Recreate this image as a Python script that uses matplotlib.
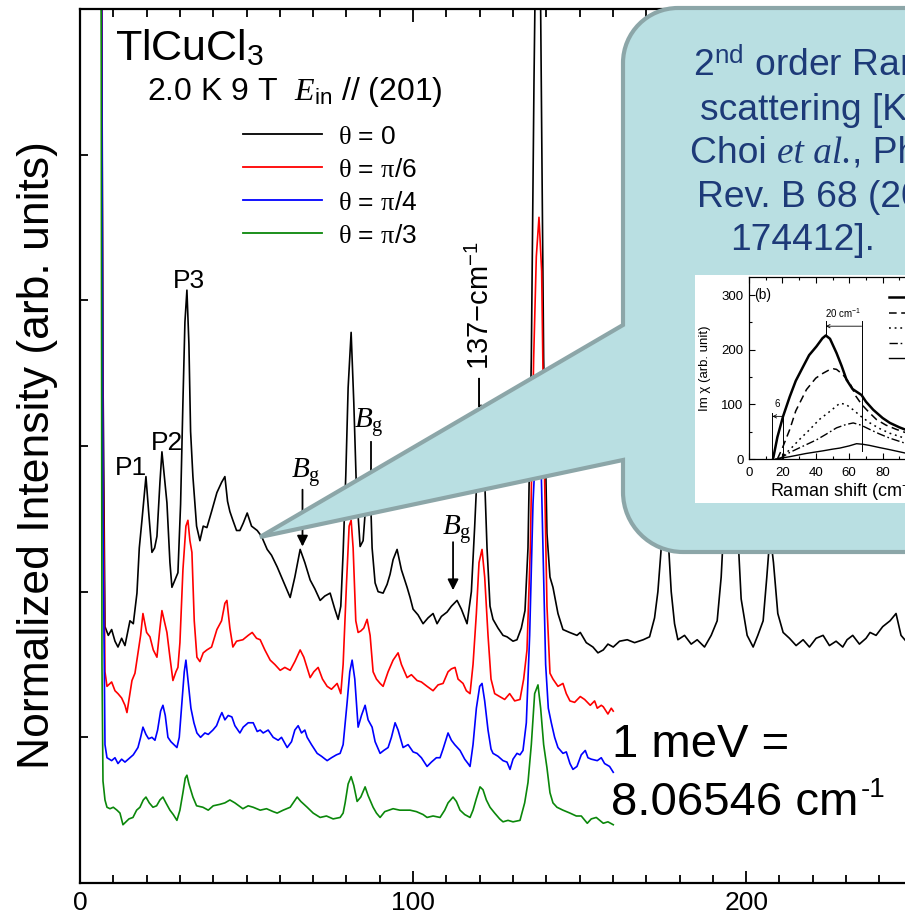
import matplotlib
matplotlib.use('Agg')
import matplotlib.pyplot as plt
from matplotlib.lines import Line2D
from matplotlib.patches import PathPatch
from matplotlib.path import Path
from matplotlib.ticker import MultipleLocator

plt.rcParams['font.family'] = ['Liberation Sans', 'DejaVu Sans']
plt.rcParams['mathtext.fontset'] = 'custom'
plt.rcParams['mathtext.rm'] = 'Liberation Serif'
plt.rcParams['mathtext.it'] = 'Liberation Serif:italic'
plt.rcParams['mathtext.sf'] = 'Liberation Sans'
plt.rcParams['mathtext.bf'] = 'Liberation Serif:bold'

# ---------------- data (Raman shift in cm^-1, normalized intensity) ----------------
black_x = [6.4, 6.9, 7.5, 8.5, 9.5, 10.5, 11.4, 12.5, 13.5, 15.0, 16.0, 17.1, 17.8, 18.6, 19.8, 20.6,
           21.6, 22.4, 23.1, 24.0, 24.6, 25.3, 26.1, 27.0, 27.6, 28.5, 29.4, 30.2, 30.9, 31.5, 32.1,
           32.7, 33.2, 33.9, 35.0, 36.0, 37.0, 38.1, 39.5, 41.1, 42.5, 43.5, 44.3, 45.0, 45.9, 47.0,
           48.0, 49.0, 50.2, 51.5, 53.2, 54.5, 56.2, 57.5, 59.2, 60.5, 62.0, 63.1, 64.5, 66.1, 67.5,
           69.1, 70.5, 72.1, 73.5, 75.1, 76.5, 77.5, 78.3, 79.0, 79.8, 80.5, 81.4, 82.2, 83.0, 84.1,
           85.0, 85.8, 86.5, 87.1, 87.7, 88.6, 89.5, 91.0, 92.2, 93.1, 94.0, 95.2, 96.5, 98.2, 99.1,
           100.0, 101.5, 103.0, 104.5, 106.0, 107.2, 108.5, 110.2, 111.5, 113.2, 114.5, 116.2, 117.5,
           118.5, 119.5, 120.4, 121.3, 122.2, 123.1, 124.0, 125.5, 127.0, 128.2, 130.0, 131.2, 132.5,
           133.6, 134.5, 135.5, 136.3, 137.0, 137.6, 138.3, 139.2, 140.2, 141.1, 142.0, 143.5, 145.0,
           147.0, 149.2, 150.2, 152.0, 154.0, 155.5, 157.1, 158.5, 160.1, 162.0, 164.3, 166.5, 169.1,
           171.0, 172.5, 173.5, 174.5, 175.5, 176.5, 177.5, 178.5, 179.5, 181.5, 183.5, 185.3, 187.5,
           189.5, 191.3, 192.5, 193.5, 194.5, 195.5, 196.5, 197.5, 198.5, 200.3, 202.1, 203.5, 205.1,
           206.2, 207.2, 208.2, 209.5, 211.1, 213.0, 215.0, 217.1, 219.0, 221.0, 223.1, 225.0, 227.0,
           229.0, 230.3, 232.0, 234.0, 236.0, 237.2, 239.0, 241.0, 243.2, 245.0, 246.5, 248.0, 250.0]
black_y = [7.0, 3.5, 1.76, 1.70, 1.74, 1.66, 1.62, 1.68, 1.63, 1.80, 1.78, 1.99, 2.30, 2.49, 2.79, 2.55,
           2.27, 2.30, 2.38, 2.75, 2.96, 2.80, 2.61, 2.20, 2.03, 2.08, 2.13, 2.60, 3.30, 3.85, 4.07,
           3.70, 3.10, 2.79, 2.45, 2.35, 2.45, 2.44, 2.55, 2.68, 2.75, 2.79, 2.62, 2.55, 2.49, 2.42,
           2.42, 2.47, 2.54, 2.45, 2.42, 2.38, 2.29, 2.25, 2.17, 2.10, 2.02, 1.96, 2.10, 2.29, 2.20,
           2.08, 2.02, 1.94, 1.97, 1.99, 1.88, 1.81, 1.90, 2.27, 2.80, 3.40, 3.78, 3.30, 2.70, 2.31,
           2.35, 2.60, 2.80, 2.75, 2.30, 2.06, 2.00, 1.99, 2.05, 2.12, 2.22, 2.29, 2.15, 2.03, 1.96,
           1.88, 1.84, 1.78, 1.82, 1.85, 1.78, 1.83, 1.86, 1.90, 1.94, 1.88, 1.78, 2.00,
           2.45, 2.95, 3.28, 2.90, 2.30, 1.90, 1.81, 1.75, 1.70, 1.69, 1.66, 1.67, 1.75,
           1.87, 2.30, 3.60, 5.50, 6.80, 7.20, 6.00, 3.60, 2.40, 2.10, 2.03, 1.85, 1.74,
           1.72, 1.70, 1.72, 1.65, 1.62, 1.58, 1.60, 1.64, 1.62, 1.66, 1.67, 1.65, 1.67,
           1.69, 1.82, 2.00, 2.30, 2.55, 2.40, 2.00, 1.78, 1.67, 1.70, 1.64, 1.67, 1.62,
           1.70, 1.80, 2.10, 2.55, 2.85, 3.00, 2.85, 2.40, 1.95, 1.70, 1.62, 1.70, 1.80,
           2.10, 2.40, 2.20, 1.85, 1.72, 1.68, 1.63, 1.67, 1.62, 1.68, 1.70, 1.63, 1.66,
           1.62, 1.67, 1.70, 1.64, 1.68, 1.72, 1.70, 1.76, 1.80, 1.85, 1.70, 1.66, 1.68]

red_x = [6.4, 6.9, 7.5, 8.1, 9.5, 10.5, 11.4, 12.5, 13.5, 14.1, 15.0, 15.6, 16.5, 17.4, 18.2, 18.9,
         20.0, 21.0, 22.0, 23.1, 24.0, 24.6, 25.5, 26.1, 27.0, 27.9, 28.8, 29.4, 30.0, 30.9, 31.8,
         32.4, 33.0, 33.6, 34.3, 35.1, 36.0, 37.0, 38.1, 39.5, 41.1, 42.5, 43.5, 44.1, 45.0, 45.9,
         47.0, 48.9, 50.5, 51.7, 53.0, 54.1, 55.5, 57.1, 58.5, 60.1, 61.5, 63.1, 64.5, 66.1, 67.2,
         69.1, 70.2, 71.5, 72.8, 74.2, 75.5, 77.2, 78.3, 79.0, 80.0, 80.8, 81.4, 82.0, 82.8, 83.5,
         84.3, 85.2, 86.2, 87.1, 88.0, 89.0, 90.1, 91.0, 92.5, 94.0, 95.5, 96.5, 98.2, 99.5, 101.2,
         102.5, 104.2, 106.0, 107.5, 109.0, 110.5, 111.5, 112.6, 113.5, 115.0, 116.0, 117.1, 118.0,
         119.0, 119.8, 120.7, 121.5, 122.5, 123.4, 124.5, 126.0, 127.5, 129.0, 130.5, 132.1, 133.2,
         134.2, 135.2, 136.2, 137.0, 137.8, 138.6, 139.3, 140.2, 141.1, 142.0, 143.5, 145.0, 146.0,
         147.1, 148.5, 150.2, 151.5, 153.2, 154.5, 155.3, 156.5, 157.1, 158.5, 159.5, 160.1]
red_y = [7.0, 3.0, 1.45, 1.35, 1.38, 1.32, 1.30, 1.27, 1.22, 1.17, 1.30, 1.39, 1.44, 1.58, 1.70, 1.85,
         1.72, 1.69, 1.60, 1.55, 1.75, 1.87, 1.78, 1.72, 1.55, 1.39, 1.45, 1.48, 1.65, 2.15, 2.45,
         2.49, 2.35, 2.27, 1.80, 1.55, 1.52, 1.58, 1.60, 1.62, 1.74, 1.80, 1.92, 1.94, 1.75, 1.62,
         1.66, 1.67, 1.70, 1.72, 1.68, 1.67, 1.60, 1.53, 1.50, 1.46, 1.48, 1.46, 1.52, 1.60, 1.55,
         1.41, 1.45, 1.48, 1.40, 1.35, 1.33, 1.37, 1.30, 1.50, 2.05, 2.45, 2.49, 2.30, 1.80, 1.72,
         1.73, 1.75, 1.81, 1.70, 1.45, 1.40, 1.37, 1.35, 1.45, 1.53, 1.58, 1.50, 1.41, 1.43, 1.39,
         1.38, 1.35, 1.32, 1.36, 1.37, 1.45, 1.47, 1.48, 1.40, 1.37, 1.32, 1.30, 1.50,
         1.85, 2.20, 2.29, 2.10, 1.70, 1.40, 1.30, 1.28, 1.26, 1.30, 1.25, 1.26, 1.40,
         1.60, 2.30, 3.60, 4.30, 4.57, 4.20, 3.00, 1.90, 1.44, 1.40, 1.35, 1.37, 1.30,
         1.25, 1.24, 1.28, 1.26, 1.22, 1.25, 1.20, 1.22, 1.21, 1.16, 1.20, 1.18]

blue_x = [6.4, 6.9, 7.5, 8.1, 9.5, 10.5, 11.4, 12.5, 13.5, 15.0, 16.0, 17.4, 18.2, 18.9, 19.8, 20.6,
          21.6, 22.5, 23.3, 24.2, 24.9, 25.6, 26.4, 27.3, 28.2, 29.1, 29.8, 30.6, 31.3, 31.8, 32.4,
          33.3, 34.2, 35.1, 36.2, 37.5, 38.5, 39.9, 41.0, 42.0, 42.6, 43.5, 44.5, 45.6, 46.5, 48.0,
          49.0, 50.5, 52.0, 53.2, 54.1, 55.0, 56.5, 58.0, 59.5, 60.5, 62.2, 63.5, 64.5, 65.5, 66.5,
          67.5, 68.2, 69.5, 71.2, 72.5, 74.2, 75.5, 77.0, 78.1, 79.0, 80.2, 81.0, 81.7, 82.5, 83.5,
          84.5, 85.6, 86.5, 87.7, 88.6, 90.1, 91.2, 92.5, 93.5, 94.6, 95.5, 97.0, 98.5, 100.0, 101.2,
          102.5, 104.2, 105.5, 107.0, 108.1, 109.0, 110.5, 111.5, 112.5, 114.1, 115.5, 116.5, 117.1,
          118.0, 119.0, 120.0, 120.7, 121.5, 122.5, 123.4, 124.0, 125.5, 127.0, 128.2, 129.1, 130.0,
          131.2, 132.1, 133.0, 134.0, 135.0, 136.0, 137.0, 137.6, 138.3, 139.0, 139.8, 140.6, 141.5,
          142.5, 143.5, 145.0, 146.0, 147.1, 148.0, 149.2, 150.5, 151.7, 152.5, 153.5, 155.3, 156.5,
          157.5, 159.0, 160.1]
blue_y = [7.0, 2.5, 0.95, 0.86, 0.84, 0.86, 0.82, 0.85, 0.83, 0.86, 0.88, 0.93, 1.00, 1.07, 1.02, 0.99,
          1.00, 0.98, 1.05, 1.18, 1.22, 1.15, 1.00, 0.97, 0.95, 0.93, 1.00, 1.24, 1.45, 1.53, 1.40,
          1.20, 1.10, 1.03, 1.00, 1.03, 1.02, 1.05, 1.08, 1.14, 1.17, 1.12, 1.15, 1.14, 1.08, 1.03,
          1.07, 1.10, 1.10, 1.04, 1.05, 1.03, 1.05, 1.00, 0.98, 1.00, 0.93, 0.97, 1.05, 1.08, 1.03,
          1.05, 1.00, 0.95, 0.89, 0.87, 0.84, 0.86, 0.88, 0.89, 0.95, 1.24, 1.45, 1.53, 1.40, 1.07,
          1.15, 1.22, 1.12, 1.07, 0.97, 0.89, 0.91, 0.93, 1.00, 1.10, 1.05, 0.93, 0.95, 0.90, 0.89,
          0.86, 0.80, 0.83, 0.86, 0.86, 0.92, 1.03, 0.98, 0.95, 0.91, 0.85, 0.82, 0.80,
          0.95, 1.20, 1.35, 1.37, 1.25, 1.05, 0.92, 0.89, 0.87, 0.84, 0.83, 0.78, 0.85,
          0.89, 0.88, 0.91, 1.10, 1.70, 2.60, 3.10, 3.20, 3.00, 2.30, 1.50, 1.20, 1.10,
          1.00, 0.93, 0.89, 0.90, 0.82, 0.78, 0.80, 0.88, 0.91, 0.86, 0.85, 0.84, 0.86,
          0.82, 0.80, 0.76]

green_x = [6.3, 6.6, 6.9, 7.5, 8.1, 9.0, 10.0, 11.1, 12.0, 12.9, 13.8, 14.7, 15.9, 17.0, 18.0, 19.0,
           19.8, 20.8, 21.9, 23.0, 24.0, 24.9, 25.8, 27.0, 28.0, 29.1, 30.0, 30.9, 31.6, 32.1, 32.7,
           33.9, 35.0, 36.9, 38.5, 40.0, 42.0, 43.5, 45.0, 46.5, 48.9, 50.5, 52.0, 54.1, 56.0, 58.0,
           59.2, 61.0, 63.1, 64.3, 65.2, 66.3, 68.2, 70.0, 72.1, 74.0, 76.0, 78.1, 79.0, 79.6, 80.5,
           81.4, 82.2, 83.2, 84.3, 85.6, 86.5, 88.0, 89.0, 90.1, 91.5, 94.0, 96.0, 99.1, 101.0, 103.0,
           104.2, 106.0, 108.1, 109.5, 110.5, 112.0, 113.0, 114.1, 115.5, 117.1, 118.0, 119.0, 120.1,
           121.0, 122.0, 123.1, 124.5, 126.0, 127.0, 128.5, 130.0, 132.1, 133.5, 134.5, 135.5, 136.5,
           137.5, 138.3, 139.2, 140.2, 141.1, 142.0, 143.2, 145.0, 147.1, 149.0, 150.5, 152.3, 153.5,
           155.0, 157.1, 158.5, 160.1]
green_y = [7.0, 1.5, 0.70, 0.57, 0.52, 0.51, 0.52, 0.50, 0.48, 0.40, 0.42, 0.44, 0.45, 0.50, 0.52, 0.57,
           0.59, 0.55, 0.52, 0.53, 0.57, 0.59, 0.55, 0.50, 0.47, 0.43, 0.50, 0.62, 0.72, 0.74, 0.68,
           0.59, 0.53, 0.52, 0.50, 0.53, 0.54, 0.55, 0.57, 0.55, 0.51, 0.53, 0.52, 0.50, 0.51, 0.49,
           0.48, 0.50, 0.52, 0.56, 0.59, 0.56, 0.52, 0.48, 0.45, 0.46, 0.44, 0.45, 0.48, 0.55, 0.68,
           0.73, 0.67, 0.56, 0.59, 0.66, 0.60, 0.52, 0.48, 0.45, 0.49, 0.51, 0.50, 0.50, 0.49, 0.47,
           0.45, 0.46, 0.45, 0.50, 0.55, 0.59, 0.56, 0.50, 0.47, 0.45, 0.50, 0.58, 0.66,
           0.64, 0.57, 0.52, 0.48, 0.44, 0.42, 0.43, 0.42, 0.43, 0.55, 0.69, 0.95, 1.30,
           1.36, 1.20, 0.95, 0.79, 0.62, 0.55, 0.52, 0.50, 0.48, 0.46, 0.46, 0.41, 0.44,
           0.45, 0.41, 0.42, 0.40]

series_labels = ['θ = 0', 'θ = π/6', 'θ = π/4', 'θ = π/3']
legend_tex = [r'$\mathrm{\theta}$ = 0', r'$\mathrm{\theta}$ = $\mathrm{\pi}$/6',
              r'$\mathrm{\theta}$ = $\mathrm{\pi}$/4', r'$\mathrm{\theta}$ = $\mathrm{\pi}$/3']
series_colors = ['black', '#ff0000', '#0000ff', '#0a870a']

x_ticks = [0, 100, 200]

# inset: Im chi (arb. unit) vs Raman shift (Choi et al.)
chi1_x = [14.4, 17, 20.4, 24.4, 28, 32.4, 36, 40.4, 44, 46, 48.5, 52.4, 55.5, 58.4, 62, 67.4, 70, 74.4, 80, 84.4, 90, 93.4, 100, 110, 120]
chi1_y = [0, 40, 78, 114, 143, 169, 190, 206, 221, 226, 220, 194, 170, 145, 128, 117, 105, 90, 75, 66, 58, 54, 47, 40, 34]
chi2_x = [17, 20, 24.4, 28, 34.4, 40, 44.4, 48, 50.5, 52.4, 56, 60.4, 64, 67.4, 72, 76.4, 82, 88.4, 95, 105, 120]
chi2_y = [0, 20, 54, 88, 127, 148, 157, 163, 165, 164, 155, 139, 115, 100, 85, 72, 62, 54, 47, 40, 32]
chi3_x = [18, 24.4, 30, 36.4, 42, 48.4, 54.4, 58, 62.4, 67, 72.4, 78, 84.4, 93.4, 105, 120]
chi3_y = [0, 17, 35, 54, 72, 87, 102, 100, 90, 78, 66, 56, 47, 38, 31, 25]
chi4_x = [18, 24.4, 32, 40.4, 46, 52.4, 58, 62.4, 67, 72.4, 78, 84.4, 93.4, 105, 120]
chi4_y = [0, 12, 23, 35, 45, 57, 63, 66, 62, 54, 46, 38, 29, 22, 16]
chi5_x = [16, 24, 34, 44.4, 50, 54.4, 60, 64.4, 68, 72, 78, 84.4, 93.4, 105, 120]
chi5_y = [0, 4, 10, 15, 18, 20, 24, 28, 27, 25, 21, 17, 11, 8, 5]

callout_lines = [r'2$^{\mathsf{nd}}$ order Raman', 'scattering [K.-Y.',
                 None, 'Rev. B 68 (2003)', '174412].']
callout_line3 = ['Choi ', 'et al.', ', Phys.']

# ---------------- figure ----------------
W, H = 905, 918
fig = plt.figure(figsize=(W / 100, H / 100), dpi=100)
renderer = fig.canvas.get_renderer()


def fx(px):
    return px / W


def fy(py):
    return 1 - py / H


ax = fig.add_axes([fx(80), fy(883), 866 / W, 874 / H])
ax.set_xlim(0, 260)
ax.set_ylim(0, 6)
for xs, ys, c in zip([black_x, red_x, blue_x, green_x], [black_y, red_y, blue_y, green_y], series_colors):
    ax.plot(xs, ys, color=c, lw=1.2, solid_joinstyle='round')

ax.xaxis.set_major_locator(MultipleLocator(100))
ax.xaxis.set_minor_locator(MultipleLocator(10))
ax.yaxis.set_major_locator(MultipleLocator(1))
ax.set_xticks(x_ticks)
ax.set_xticklabels([str(t) for t in x_ticks])
ax.tick_params(axis='x', which='major', direction='in', length=9, width=1.3, top=True,
               labelsize=19, pad=6)
ax.tick_params(axis='x', which='minor', direction='in', length=6, width=1.3, top=True)
ax.tick_params(axis='y', which='major', direction='in', length=6, width=1.3, labelleft=False)
for s in ax.spines.values():
    s.set_linewidth(1.6)
ax.spines['right'].set_visible(False)

fig.text(fx(38), fy(455), 'Normalized Intensity (arb. units)', rotation=90,
         ha='center', va='center', fontsize=32)

# title block
fig.text(fx(115), fy(60), r'TlCuCl$_{\mathsf{3}}$', fontsize=31, va='baseline')
fig.text(fx(147), fy(100), r'2.0 K 9 T  $\mathit{E}_{\mathsf{in}}$ // (201)', fontsize=23, va='baseline')
for i, (c, lab) in enumerate(zip(series_colors, legend_tex)):
    yl = 134 + 33 * i
    fig.add_artist(Line2D([fx(243), fx(322)], [fy(yl), fy(yl)], color=c, lw=1.3))
    fig.text(fx(338), fy(yl + 10), lab, fontsize=19, va='baseline')

# peak labels
fig.text(fx(115), fy(475), 'P1', fontsize=19, va='baseline')
fig.text(fx(151), fy(450), 'P2', fontsize=19, va='baseline')
fig.text(fx(173), fy(288), 'P3', fontsize=19, va='baseline')
bg = r'$\mathit{B}_{\mathrm{g}}$'
fig.text(fx(291), fy(478), bg, fontsize=21, va='baseline')
fig.text(fx(354), fy(428), bg, fontsize=21, va='baseline')
fig.text(fx(442), fy(535), bg, fontsize=21, va='baseline')
arr = dict(arrowstyle='-|>', color='black', lw=1.3, mutation_scale=16, shrinkA=0, shrinkB=0)
ax.annotate('', xy=(66.8, 2.31), xytext=(66.8, 2.70), arrowprops=arr)
ax.annotate('', xy=(112.0, 2.01), xytext=(112.0, 2.34), arrowprops=arr)
ax.plot([87.4, 87.4], [2.81, 3.03], color='black', lw=1.3)
fig.text(fx(481), fy(407), '— 137−cm$^{\\mathsf{-1}}$', rotation=90, ha='center', va='bottom',
         fontsize=21)

fig.text(fx(612), fy(757), '1 meV =', fontsize=34, va='baseline')
fig.text(fx(611), fy(815), '8.06546 cm', fontsize=34, va='baseline')
fig.text(fx(861), fy(797), '-1', fontsize=20, va='baseline')

# callout shape
L, T, B, R = 623, 8, 552, 990
r1, r2 = 55, 60
k = 0.5523
tip = (260, 537)
pts = [tip, (L, 460), (L, B - r2), (L, B - r2 + k * r2), (L + r2 - k * r2, B), (L + r2, B),
       (R, B), (R, T), (L + r1, T), (L + r1 - k * r1, T), (L, T + r1 - k * r1), (L, T + r1),
       (L, 325), tip]
codes = [Path.MOVETO, Path.LINETO, Path.LINETO, Path.CURVE4, Path.CURVE4, Path.CURVE4,
         Path.LINETO, Path.LINETO, Path.LINETO, Path.CURVE4, Path.CURVE4, Path.CURVE4,
         Path.LINETO, Path.CLOSEPOLY]
path = Path([(fx(a), fy(b)) for a, b in pts], codes)
callout = PathPatch(path, transform=fig.transFigure, facecolor='#b9dfe2', edgecolor='#8ca6a8',
                    lw=3.0, joinstyle='miter', zorder=2)
fig.add_artist(callout)

cfs = 26.8
ccol = '#1d3a78'
starts = [693, 700, 690, 697, 730]
bases = [76, 120, 163, 207, 250]
for txt, xs, yb in zip(callout_lines, starts, bases):
    if txt is None:
        xpos = xs
        for part in callout_line3:
            fam = ['Liberation Serif'] if part == 'et al.' else ['Liberation Sans']
            sty = 'italic' if part == 'et al.' else 'normal'
            t = fig.text(fx(xpos), fy(yb), part, fontsize=cfs, color=ccol, va='baseline',
                         family=fam, style=sty, zorder=5)
            xpos += t.get_window_extent(renderer).width
    else:
        fig.text(fx(xs), fy(yb), txt, fontsize=cfs, color=ccol, va='baseline', zorder=5)

# inset
bgax = fig.add_axes([fx(695), fy(503), (990 - 695) / W, (503 - 275) / H], zorder=3)
bgax.set_facecolor('white')
bgax.set_xticks([])
bgax.set_yticks([])
for s in bgax.spines.values():
    s.set_visible(False)

iax = fig.add_axes([fx(749), fy(459), 200.4 / W, 182 / H], zorder=4)
iax.set_xlim(0, 120)
iax.set_ylim(0, 333)
iax.plot(chi1_x, chi1_y, color='black', lw=1.8)
iax.plot(chi2_x, chi2_y, color='black', lw=1.1, dashes=(5, 3))
iax.plot(chi3_x, chi3_y, color='black', lw=1.1, dashes=(1.2, 2.5))
iax.plot(chi4_x, chi4_y, color='black', lw=1.0, dashes=(6, 2, 1.2, 2))
iax.plot(chi5_x, chi5_y, color='black', lw=1.0)
for yy, st, lw in zip([297, 268, 239, 213, 184],
                      [None, (5, 3), (1.2, 2.5), (6, 2, 1.2, 2), None],
                      [1.8, 1.1, 1.1, 1.0, 1.0]):
    ln = Line2D([84, 104], [yy, yy], color='black', lw=lw)
    if st is not None:
        ln.set_dashes(st)
    iax.add_line(ln)
iax.xaxis.set_major_locator(MultipleLocator(20))
iax.xaxis.set_minor_locator(MultipleLocator(10))
iax.yaxis.set_major_locator(MultipleLocator(100))
iax.yaxis.set_minor_locator(MultipleLocator(50))
iax.tick_params(which='both', direction='in', top=True, labelsize=9.5, width=0.8)
iax.tick_params(axis='x', pad=6)
iax.tick_params(axis='y', pad=4)
iax.tick_params(which='major', length=4)
iax.tick_params(which='minor', length=2.5)
for s in iax.spines.values():
    s.set_linewidth(0.9)
iax.text(3, 300, '(b)', fontsize=10, va='center')
iax.plot([14, 14], [0, 85], color='black', lw=0.7)
iax.plot([20.6, 20.6], [0, 85], color='black', lw=0.7)
iax.annotate('', xy=(14, 78), xytext=(20.6, 78),
             arrowprops=dict(arrowstyle='->', lw=0.6, shrinkA=0, shrinkB=0, mutation_scale=6))
iax.text(17, 92, '6', fontsize=7, ha='center', va='bottom')
iax.plot([46, 46], [226, 252], color='black', lw=0.7)
iax.plot([67.4, 67.4], [15, 252], color='black', lw=0.7)
iax.annotate('', xy=(46, 243), xytext=(67.4, 243),
             arrowprops=dict(arrowstyle='->', lw=0.6, shrinkA=0, shrinkB=0, mutation_scale=6))
iax.text(56.5, 255, r'20 cm$^{\mathsf{-1}}$', fontsize=7, ha='center', va='bottom')
fig.text(fx(705), fy(368), 'Im χ (arb. unit)', rotation=90, ha='center', va='center',
         fontsize=9.5, zorder=5)
fig.text(fx(770), fy(497), 'Raman shift (cm$^{\\mathsf{-1}}$)', fontsize=13, va='baseline', zorder=5)

fig.savefig('out.png', dpi=100)
